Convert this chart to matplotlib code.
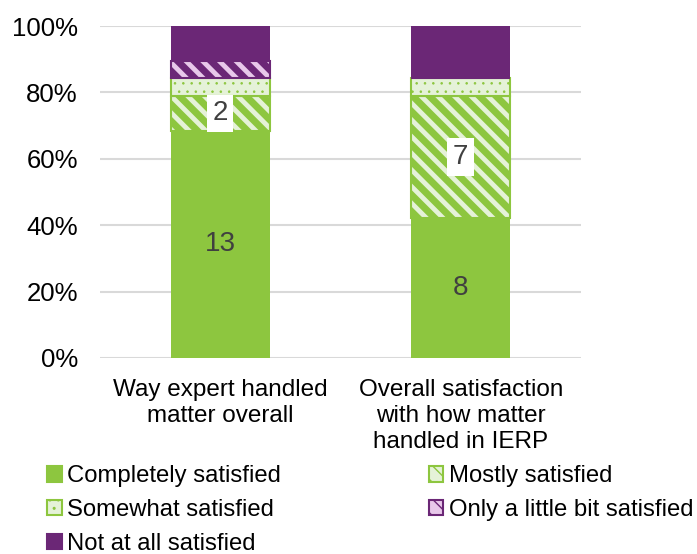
import numpy as np
import matplotlib.pyplot as plt
import matplotlib as mpl
from matplotlib.patches import Patch

plt.rcParams['font.family'] = ['Liberation Sans', 'DejaVu Sans']

categories = ['Way expert handled\nmatter overall',
              'Overall satisfaction\nwith how matter\nhandled in IERP']
series = ['Completely satisfied', 'Mostly satisfied', 'Somewhat satisfied',
          'Only a little bit satisfied', 'Not at all satisfied']
counts = {
    'Completely satisfied': [13, 8],
    'Mostly satisfied': [2, 7],
    'Somewhat satisfied': [1, 1],
    'Only a little bit satisfied': [1, 0],
    'Not at all satisfied': [2, 3],
}
shown_labels = ['Completely satisfied', 'Mostly satisfied']

green = '#8dc63f'
lgreen = '#e5f2d8'
purple = '#6b2776'
lpurple = '#e8c8ea'
styles = {
    'Completely satisfied': dict(face=green, edge=green, hatch=None, hlw=1),
    'Mostly satisfied': dict(face=lgreen, edge=green, hatch='\\\\', hlw=5),
    'Somewhat satisfied': dict(face=lgreen, edge=green, hatch='..', hlw=0.6),
    'Only a little bit satisfied': dict(face=lpurple, edge=purple, hatch='\\\\', hlw=5),
    'Not at all satisfied': dict(face=purple, edge=purple, hatch=None, hlw=1),
}

totals = np.sum([counts[s] for s in series], axis=0)
x = np.arange(len(categories))

fig = plt.figure(figsize=(6.97, 5.54), dpi=100)
ax = fig.add_axes([0.1435, 0.354, 0.69, 0.599])

bottom = np.zeros(len(categories))
handles = {}
for s in series:
    frac = np.array(counts[s]) / totals
    st = styles[s]
    with mpl.rc_context({'hatch.linewidth': st['hlw'], 'hatch.color': st['edge']}):
        bars = ax.bar(x, frac, 0.41, bottom=bottom, color=st['face'],
                      edgecolor=st['edge'] if st['hatch'] else 'none',
                      linewidth=1.5 if st['hatch'] else 0,
                      hatch=st['hatch'], zorder=2)
        handles[s] = Patch(facecolor=st['face'], edgecolor=st['edge'],
                           hatch=st['hatch'], linewidth=1.5)
    if s in shown_labels:
        for xi, b, f, c in zip(x, bottom, frac, counts[s]):
            if c == 0:
                continue
            kw = {}
            if st['hatch']:
                kw['bbox'] = dict(facecolor='white', edgecolor='none', pad=4)
            ax.text(xi, b + f / 2, str(c), ha='center', va='center',
                    fontsize=20, color='#404040', zorder=3, **kw)
    bottom += frac

ax.set_xlim(-0.5, 1.5)
ax.set_ylim(0, 1)
ax.set_yticks(np.arange(0, 1.01, 0.2))
ax.set_yticklabels([f'{int(v * 100)}%' for v in np.arange(0, 1.01, 0.2)])
ax.set_xticks(x)
ax.set_xticklabels(categories, linespacing=1.25)
ax.tick_params(axis='x', length=0, labelsize=17.5, pad=15)
ax.tick_params(axis='y', length=0, labelsize=18.5, pad=16)
ax.grid(axis='y', color='#d9d9d9', linewidth=1.5, zorder=0)
for sp in ax.spines.values():
    sp.set_visible(False)

order = ['Completely satisfied', 'Somewhat satisfied', 'Not at all satisfied',
         'Mostly satisfied', 'Only a little bit satisfied']
fig.legend([handles[o] for o in order], order, ncol=2, frameon=False,
           loc='upper left', bbox_to_anchor=(0.068, 0.16),
           fontsize=17.2, handlelength=0.6, handleheight=0.6,
           handletextpad=0.22, columnspacing=6.2, labelspacing=0.5,
           borderaxespad=0, borderpad=0)

fig.savefig('out.png', dpi=100)
